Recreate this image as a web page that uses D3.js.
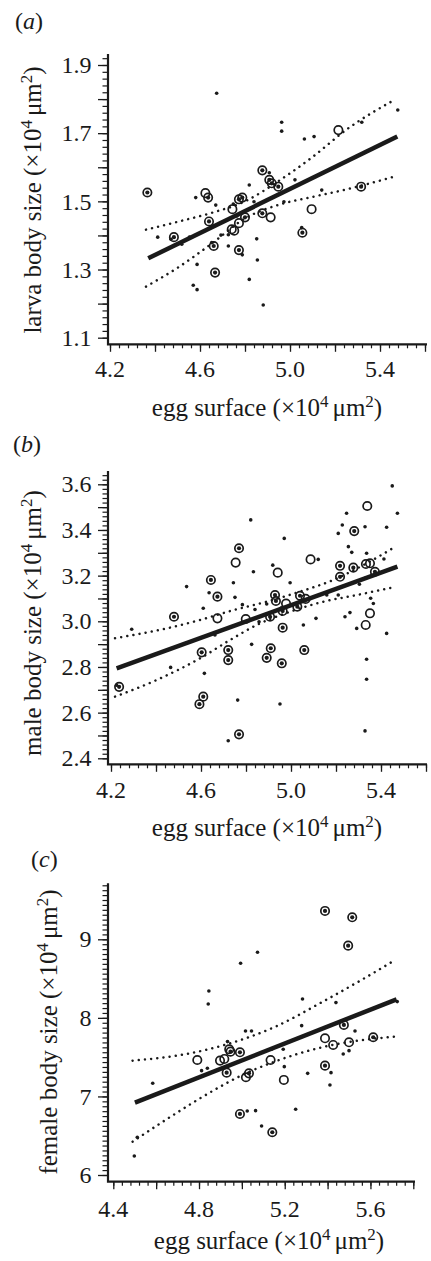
<!DOCTYPE html>
<html>
<head>
<meta charset="utf-8">
<script src="https://cdn.jsdelivr.net/npm/d3@7"></script>
<style>
  html, body { margin: 0; padding: 0; background: #fff; }
  svg { display: block; }
</style>
</head>
<body>
<svg id="chart" width="431" height="1261"></svg>
<script>
// ---------------- DATA ----------------
// Panel (a): larva body size vs egg surface
const aSmall = [[4.412,1.395],[4.471,1.389],[4.519,1.374],[4.553,1.395],[4.581,1.511],[4.587,1.315],[4.570,1.254],[4.587,1.241],[4.670,1.489],[4.652,1.379],[4.674,1.817],[4.693,1.401],[4.726,1.369],[4.726,1.402],[4.748,1.492],[4.764,1.457],[4.788,1.343],[4.819,1.548],[4.819,1.271],[4.840,1.499],[4.852,1.390],[4.855,1.328],[4.908,1.584],[4.881,1.196],[4.973,1.499],[4.963,1.732],[4.963,1.706],[5.022,1.563],[5.064,1.683],[5.107,1.690],[5.052,1.423],[5.141,1.533],[5.319,1.732],[5.479,1.768]];
const aOpen = [[4.624,1.524],[4.741,1.418],[4.744,1.477],[4.752,1.414],[4.773,1.436],[4.914,1.453],[5.096,1.477],[5.215,1.709]];
const aCircled = [[4.366,1.526],[4.484,1.395],[4.636,1.511],[4.640,1.441],[4.661,1.369],[4.667,1.291],[4.773,1.506],[4.788,1.511],[4.800,1.453],[4.773,1.357],[4.877,1.591],[4.908,1.563],[4.919,1.553],[4.877,1.465],[4.948,1.543],[5.055,1.408],[5.316,1.543]];
const aFit = [[4.370,1.333],[5.477,1.690]];
const aUpper = [[4.36,1.417],[4.50,1.440],[4.65,1.466],[4.80,1.500],[4.95,1.560],[5.10,1.630],[5.25,1.710],[5.47,1.800]];
const aLower = [[4.36,1.250],[4.50,1.305],[4.65,1.375],[4.80,1.450],[4.95,1.490],[5.10,1.513],[5.25,1.535],[5.46,1.572]];

// Panel (b): male body size vs egg surface
const bSmall = [[4.225,2.720],[4.292,2.965],[4.465,2.798],[4.536,3.152],[4.615,2.772],[4.610,3.057],[4.636,3.125],[4.662,2.940],[4.744,3.169],[4.751,3.105],[4.721,2.477],[4.763,2.655],[4.784,3.073],[4.821,3.444],[4.833,3.217],[4.840,3.052],[4.858,2.998],[4.825,2.899],[4.892,3.076],[4.919,3.246],[4.951,2.638],[4.970,3.363],[4.996,3.169],[5.055,2.984],[5.121,3.271],[5.111,3.013],[5.159,3.115],[5.210,3.115],[5.210,3.385],[5.228,3.422],[5.247,3.473],[5.255,3.327],[5.270,3.302],[5.262,3.038],[5.240,3.020],[5.292,2.969],[5.304,3.162],[5.336,3.298],[5.329,3.414],[5.333,3.190],[5.336,2.834],[5.336,2.746],[5.329,2.520],[5.354,3.101],[5.366,3.078],[5.413,3.273],[5.425,3.412],[5.425,2.947],[5.450,3.593],[5.473,3.473]];
const bOpen = [[4.673,3.013],[4.754,3.257],[4.799,3.010],[4.941,3.213],[4.978,3.078],[5.065,3.098],[5.087,3.271],[5.339,3.505],[5.333,3.251],[5.351,3.254],[5.332,2.984],[5.351,3.035]];
const bCircled = [[4.236,2.713],[4.480,3.020],[4.593,2.637],[4.610,2.670],[4.603,2.864],[4.644,3.181],[4.673,3.108],[4.769,3.320],[4.721,2.874],[4.721,2.830],[4.769,2.505],[4.892,2.840],[4.910,2.882],[4.907,3.020],[4.929,3.115],[4.933,3.089],[4.963,3.045],[4.963,2.972],[4.959,2.816],[5.028,3.064],[5.040,3.112],[5.059,2.874],[5.218,3.243],[5.218,3.195],[5.281,3.395],[5.277,3.235],[5.373,3.217]];
const bFit = [[4.225,2.794],[5.473,3.239]];
const bUpper = [[4.218,2.926],[4.447,2.969],[4.596,3.006],[4.744,3.049],[4.892,3.086],[5.040,3.130],[5.188,3.181],[5.336,3.254],[5.459,3.324]];
const bLower = [[4.218,2.670],[4.403,2.743],[4.596,2.838],[4.729,2.918],[4.848,2.984],[4.996,3.042],[5.144,3.086],[5.292,3.115],[5.455,3.149]];

// Panel (c): female body size vs egg surface
const cSmall = [[4.498,6.242],[4.512,6.480],[4.584,7.167],[4.812,7.328],[4.839,7.358],[4.846,8.342],[4.843,8.177],[4.933,7.698],[4.994,8.695],[5.025,6.815],[5.064,6.819],[5.017,7.833],[5.045,7.833],[5.073,8.835],[5.092,6.624],[5.139,7.600],[5.193,7.600],[5.198,7.379],[5.251,6.836],[5.279,7.901],[5.283,8.241],[5.307,7.294],[5.439,8.194],[5.416,7.303],[5.411,7.146],[5.473,7.541],[5.500,7.583],[5.528,7.833],[5.725,8.207]];
const cOpen = [[4.792,7.464],[4.898,7.456],[4.918,7.477],[4.941,7.600],[5.019,7.244],[5.134,7.464],[5.196,7.210],[5.388,7.740],[5.426,7.655],[5.500,7.689]];
const cCircled = [[4.929,7.303],[4.947,7.570],[4.991,7.562],[4.991,6.777],[5.033,7.294],[5.142,6.544],[5.388,9.361],[5.388,7.392],[5.496,8.919],[5.515,9.280],[5.476,7.910],[5.613,7.753]];
const cFit = [[4.501,6.921],[5.722,8.236]];
const cUpper = [[4.49,7.455],[4.75,7.545],[4.95,7.680],[5.15,7.880],[5.38,8.210],[5.55,8.470],[5.71,8.728]];
const cLower = [[4.49,6.424],[4.68,6.764],[4.87,7.080],[5.00,7.270],[5.15,7.440],[5.38,7.630],[5.71,7.760]];

// Tick labels
const abXTickLabels = [4.2, 4.6, 5.0, 5.4];
const cXTickLabels = [4.4, 4.8, 5.2, 5.6];
const aYTickLabels = [1.1, 1.3, 1.5, 1.7, 1.9];
const bYTickLabels = [2.4, 2.6, 2.8, 3.0, 3.2, 3.4, 3.6];
const cYTickLabels = [6, 7, 8, 9];

const panelLetters = ["a", "b", "c"];
const yTitles = ["larva body size", "male body size", "female body size"];
const xTitle = "egg surface";

// ---------------- LAYOUT ----------------
const svg = d3.select("#chart");
svg.append("rect").attr("width", 431).attr("height", 1261).attr("fill", "#fff");
const FONT = "'Liberation Serif', 'DejaVu Serif', 'Times New Roman', serif";
const INK = "#1a1a1a";
const AXIS_X = 108;

function steps(start, stop, step) {
  const n = Math.round((stop - start) / step);
  return d3.range(n + 1).map(i => +(start + i * step).toFixed(4));
}

const panels = [
  {
    small: aSmall, open: aOpen, circled: aCircled, fit: aFit, upper: aUpper, lower: aLower,
    x: d3.scaleLinear().domain([4.2, 5.6]).range([110, 425]),
    y: d3.scaleLinear().domain([1.1, 1.9]).range([337.7, 65]),
    yTop: 54, xAxisY: 344.3, xRight: 427,
    xMinor: steps(4.2, 5.6, 0.04), xMajor: steps(4.2, 5.6, 0.2), xLabels: abXTickLabels, xFmt: d3.format(".1f"),
    yMinor: steps(1.1, 1.92, 0.02), yMajor: steps(1.1, 1.9, 0.1), yLabels: aYTickLabels, yFmt: d3.format(".1f"),
    xLabelY: 377, xTitleY: 415.5, xTitleX: 267,
    yTitleX: 40.5, yTitleY: 200,
    letter: panelLetters[0], letterX: 15, letterY: 28.5, yTitle: yTitles[0]
  },
  {
    small: bSmall, open: bOpen, circled: bCircled, fit: bFit, upper: bUpper, lower: bLower,
    x: d3.scaleLinear().domain([4.2, 5.6]).range([111, 426]),
    y: d3.scaleLinear().domain([2.4, 3.6]).range([758.3, 484.3]),
    yTop: 471, xAxisY: 764.3, xRight: 427,
    xMinor: steps(4.2, 5.6, 0.04), xMajor: steps(4.2, 5.6, 0.2), xLabels: abXTickLabels, xFmt: d3.format(".1f"),
    yMinor: steps(2.4, 3.64, 0.02), yMajor: steps(2.4, 3.6, 0.1), yLabels: bYTickLabels, yFmt: d3.format(".1f"),
    xLabelY: 798, xTitleY: 835.5, xTitleX: 267,
    yTitleX: 40.5, yTitleY: 623,
    letter: panelLetters[1], letterX: 13, letterY: 452, yTitle: yTitles[1]
  },
  {
    small: cSmall, open: cOpen, circled: cCircled, fit: cFit, upper: cUpper, lower: cLower,
    x: d3.scaleLinear().domain([4.4, 5.8]).range([113.3, 413.3]),
    y: d3.scaleLinear().domain([6, 9]).range([1175, 939.3]),
    yTop: 883.3, xAxisY: 1181.7, xRight: 415,
    xMinor: steps(4.4, 5.8, 0.04), xMajor: steps(4.4, 5.8, 0.2), xLabels: cXTickLabels, xFmt: d3.format(".1f"),
    yMinor: steps(6, 9.6875, 0.0625), yMajor: steps(6, 9, 1), yLabels: cYTickLabels, yFmt: d3.format("d"),
    xLabelY: 1217, xTitleY: 1248.5, xTitleX: 269,
    yTitleX: 56.5, yTitleY: 1032,
    letter: panelLetters[2], letterX: 31, letterY: 867, yTitle: yTitles[2]
  }
];

function unitText(sel, main) {
  sel.append("tspan").text(main + " (\u00D710");
  sel.append("tspan").attr("font-size", "0.68em").attr("dy", "-0.5em").text("4");
  sel.append("tspan").attr("dy", "0.34em").attr("dx", "4").text("\u03BCm");
  sel.append("tspan").attr("font-size", "0.68em").attr("dy", "-0.5em").text("2");
  sel.append("tspan").attr("dy", "0.34em").text(")");
}

function styleTicks(g, w) {
  g.select(".domain").remove();
  g.selectAll(".tick line").attr("stroke", INK).attr("stroke-width", w);
}

panels.forEach(p => {
  const g = svg.append("g");

  // ticks (y)
  g.append("g").attr("transform", `translate(${AXIS_X},0)`)
    .call(d3.axisLeft(p.y).tickValues(p.yMinor).tickSize(5.5).tickFormat(""))
    .call(s => styleTicks(s, 1.2));
  g.append("g").attr("transform", `translate(${AXIS_X},0)`)
    .call(d3.axisLeft(p.y).tickValues(p.yMajor).tickSize(10).tickFormat(""))
    .call(s => styleTicks(s, 1.3));
  // ticks (x)
  g.append("g").attr("transform", `translate(0,${p.xAxisY})`)
    .call(d3.axisBottom(p.x).tickValues(p.xMinor).tickSize(4).tickFormat(""))
    .call(s => styleTicks(s, 1.2));
  g.append("g").attr("transform", `translate(0,${p.xAxisY})`)
    .call(d3.axisBottom(p.x).tickValues(p.xMajor).tickSize(7.5).tickFormat(""))
    .call(s => styleTicks(s, 1.3));

  // axis lines (L shape)
  g.append("path")
    .attr("d", `M${AXIS_X},${p.yTop}V${p.xAxisY}H${p.xRight}`)
    .attr("fill", "none").attr("stroke", INK).attr("stroke-width", 2.2)
    .attr("stroke-linejoin", "miter");

  // tick labels
  g.selectAll(".ylab").data(p.yLabels).join("text")
    .attr("x", 91.5).attr("y", d => p.y(d)).attr("dy", "0.34em")
    .attr("text-anchor", "end").attr("font-family", FONT).attr("font-size", 24).attr("fill", INK)
    .text(p.yFmt);
  g.selectAll(".xlab").data(p.xLabels).join("text")
    .attr("x", d => p.x(d)).attr("y", p.xLabelY)
    .attr("text-anchor", "middle").attr("font-family", FONT).attr("font-size", 24).attr("fill", INK)
    .text(p.xFmt);

  // axis titles
  g.append("text").attr("x", p.xTitleX).attr("y", p.xTitleY)
    .attr("text-anchor", "middle").attr("font-family", FONT).attr("font-size", 25).attr("fill", INK)
    .call(s => unitText(s, xTitle));
  g.append("text").attr("transform", `translate(${p.yTitleX},${p.yTitleY}) rotate(-90)`)
    .attr("text-anchor", "middle").attr("font-family", FONT).attr("font-size", 25).attr("fill", INK)
    .call(s => unitText(s, p.yTitle));

  // panel letter
  const lt = g.append("text").attr("x", p.letterX).attr("y", p.letterY)
    .attr("font-family", FONT).attr("font-size", 24).attr("fill", INK);
  lt.append("tspan").text("(");
  lt.append("tspan").attr("font-style", "italic").text(p.letter);
  lt.append("tspan").text(")");

  // confidence bands (dotted)
  const line = d3.line().x(d => p.x(d[0])).y(d => p.y(d[1])).curve(d3.curveMonotoneX);
  [p.upper, p.lower].forEach(band => {
    g.append("path").attr("d", line(band))
      .attr("fill", "none").attr("stroke", INK).attr("stroke-width", 2.5)
      .attr("stroke-linecap", "round").attr("stroke-dasharray", "0.01 6.2");
  });
  // regression line
  g.append("path").attr("d", d3.line().x(d => p.x(d[0])).y(d => p.y(d[1]))(p.fit))
    .attr("fill", "none").attr("stroke", INK).attr("stroke-width", 4.5);

  // points
  g.selectAll(".open").data(p.open).join("circle")
    .attr("cx", d => p.x(d[0])).attr("cy", d => p.y(d[1])).attr("r", 4.2)
    .attr("fill", "none").attr("stroke", INK).attr("stroke-width", 1.7);
  g.selectAll(".circled").data(p.circled).join("circle")
    .attr("cx", d => p.x(d[0])).attr("cy", d => p.y(d[1])).attr("r", 4.2)
    .attr("fill", "none").attr("stroke", INK).attr("stroke-width", 1.7);
  g.selectAll(".circledDot").data(p.circled).join("circle")
    .attr("cx", d => p.x(d[0])).attr("cy", d => p.y(d[1])).attr("r", 2.1)
    .attr("fill", INK);
  g.selectAll(".small").data(p.small).join("circle")
    .attr("cx", d => p.x(d[0])).attr("cy", d => p.y(d[1])).attr("r", 1.8)
    .attr("fill", INK);
});
</script>
</body>
</html>
